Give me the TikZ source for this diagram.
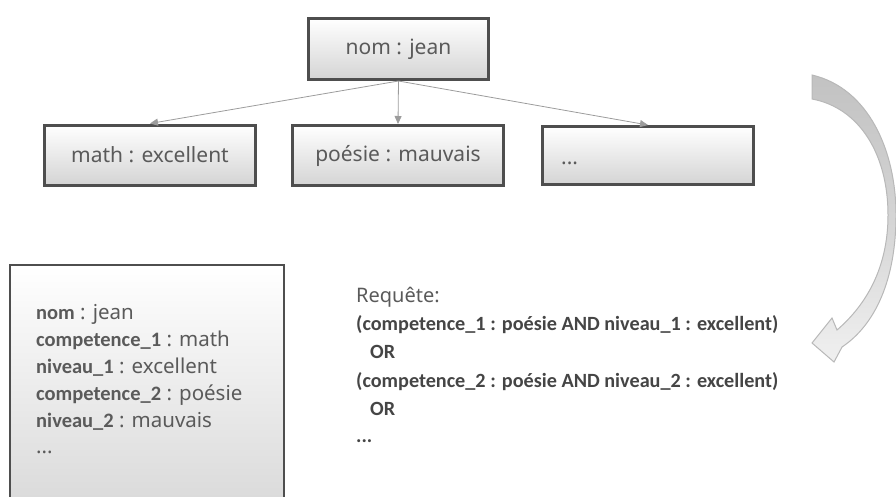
\documentclass[tikz,border=0pt]{standalone}
\usepackage{fontspec}
\setmainfont{Noto Sans}
\newfontfamily\calib{Carlito}
\usetikzlibrary{arrows.meta}
\definecolor{boxedge}{HTML}{4E4E4E}
\definecolor{boxbot}{HTML}{D4D4D4}
\definecolor{txtgray}{HTML}{5A5A5A}
\definecolor{qtxt}{HTML}{454545}
\definecolor{linkgray}{HTML}{9C9C9C}
\definecolor{arrdark}{HTML}{C2C2C2}
\definecolor{arrlight}{HTML}{F0F0F0}
\definecolor{arredge}{HTML}{B8B8B8}
\tikzset{
  treebox/.style={draw=boxedge, line width=3pt, top color=white, bottom color=boxbot,
    minimum width=211pt, minimum height=60pt, inner sep=0pt, font=\fontsize{21}{25}\selectfont, text=txtgray},
  docbox/.style={draw=boxedge, line width=2.2pt, top color=white, bottom color=boxbot!90,
    minimum width=274pt, minimum height=250pt, inner sep=0pt},
  link/.style={draw=linkgray, line width=0.8pt, -{Triangle[length=8pt,width=7pt]}},
  doctxt/.style={anchor=base west, inner sep=0pt, text=txtgray, font=\fontsize{20.5}{24}\selectfont},
  qline/.style={anchor=base west, inner sep=0pt, text=qtxt, font=\calib\bfseries\fontsize{20.2}{24}\selectfont},
}
\begin{document}
\begin{tikzpicture}[x=1pt,y=-1pt]
\useasboundingbox (0,0) rectangle (896,496);
\begin{scope}
\clip (0,0) rectangle (896,496);
% tree
\node[treebox, minimum width=180pt, minimum height=61pt] (root) at (398.5,49) {nom : jean};
\node[treebox] (math) at (150,155) {math : excellent};
\node[treebox] (poes) at (398,155.5) {poésie : mauvais};
\node[treebox, minimum height=58pt] (more) at (648,155.5) {};
\node[anchor=base west, inner sep=0pt, text=txtgray, font=\fontsize{21}{25}\selectfont] (moretxt) at (561,164) {...};
\draw[link] (root.south) -- (math.north);
\draw[link] (root.south) -- (poes.north);
\draw[link] (root.south) -- (more.north);
% document box
\node[docbox] (doc) at (147,390) {};
\node[doctxt] (l1) at (36,319) {{\calib\bfseries nom} : jean};
\node[doctxt] (l2) at (36,346) {{\calib\bfseries competence\_1} : math};
\node[doctxt] (l3) at (36,373) {{\calib\bfseries niveau\_1} : excellent};
\node[doctxt] (l4) at (36,400) {{\calib\bfseries competence\_2} : poésie};
\node[doctxt] (l5) at (36,427) {{\calib\bfseries niveau\_2} : mauvais};
\node[doctxt] (l6) at (36,453) {...};
% query
\node[anchor=base west, inner sep=0pt, text=txtgray, font=\fontsize{20}{24}\selectfont] (req) at (356,302) {Requête:};
\node[qline] (q1) at (356,330) {(competence\_1 : poésie AND niveau\_1 : excellent)};
\node[qline] (q2) at (370,358) {OR};
\node[qline] (q3) at (356,387) {(competence\_2 : poésie AND niveau\_2 : excellent)};
\node[qline] (q4) at (370,415) {OR};
\node[qline] (q5) at (356,442) {...};
% curved arrow
\shade[top color=arrdark, bottom color=arrlight, middle color=arrdark!60!arrlight, draw=arredge, line width=1pt]
  (812,75) .. controls (868,88) and (896,150) .. (896,215)
  .. controls (896,280) and (875,325) .. (842,347)
  -- (834,362) -- (812,343) -- (832,318) -- (837,330)
  .. controls (866,305) and (888,268) .. (888,215)
  .. controls (888,155) and (860,108) .. (812,99) -- cycle;
\end{scope}
\end{tikzpicture}
\end{document}
